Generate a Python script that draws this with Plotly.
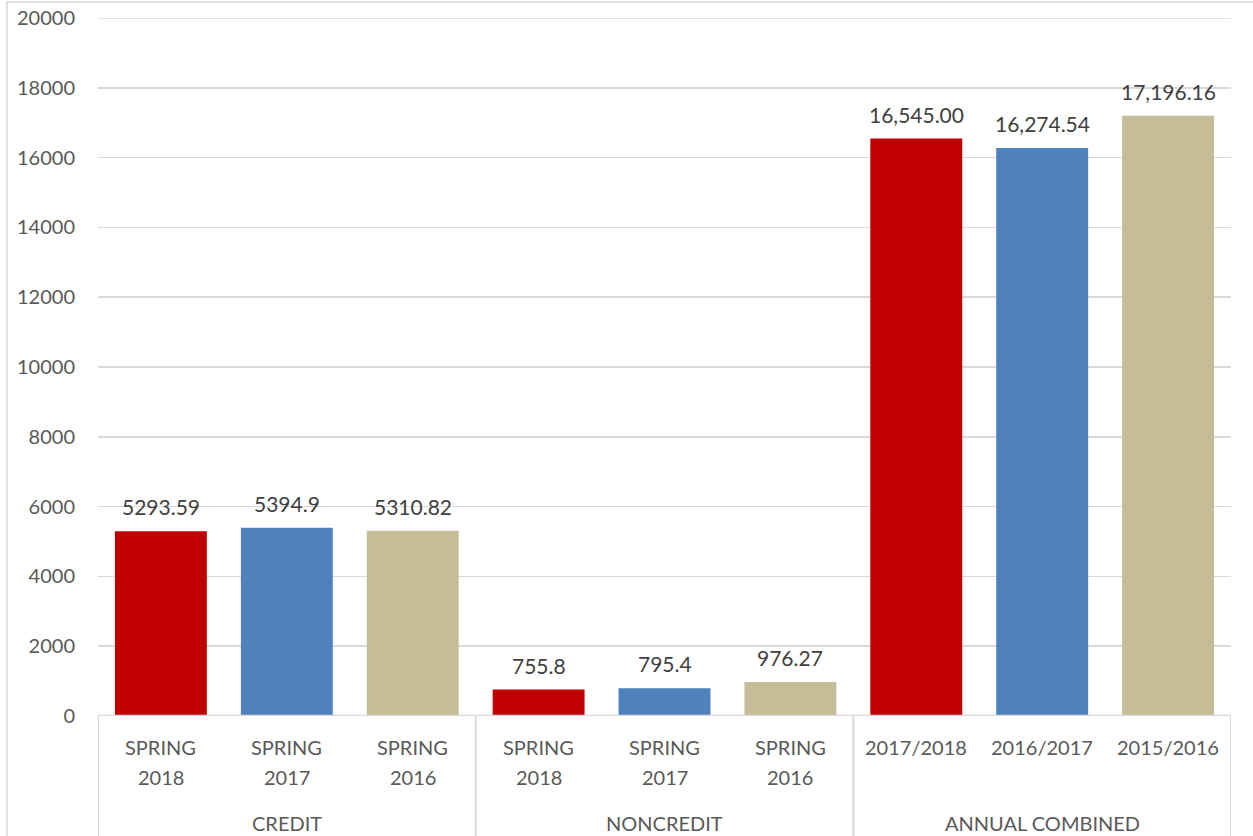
import plotly.graph_objects as go

groups = ["CREDIT", "NONCREDIT", "ANNUAL COMBINED"]
cat_line1 = ["SPRING", "SPRING", "SPRING", "SPRING", "SPRING", "SPRING", "2017/2018", "2016/2017", "2015/2016"]
cat_line2 = ["2018", "2017", "2016", "2018", "2017", "2016", "", "", ""]
values = [5293.59, 5394.9, 5310.82, 755.8, 795.4, 976.27, 16545.00, 16274.54, 17196.16]
value_labels = ["5293.59", "5394.9", "5310.82", "755.8", "795.4", "976.27", "16,545.00", "16,274.54", "17,196.16"]
colors = ["#C00000", "#4F81BD", "#C4BD97"] * 3
y_ticks = [0, 2000, 4000, 6000, 8000, 10000, 12000, 14000, 16000, 18000, 20000]

FONT = "Lato"
TXT = "#595959"
GRID = "#D9D9D9"

x = list(range(len(values)))
fig = go.Figure(go.Bar(x=x, y=values, marker=dict(color=colors, line=dict(width=0)),
                       width=0.73, hoverinfo="skip"))

ann = []
for i, v in enumerate(values):
    ann.append(dict(x=i, y=v, xref="x", yref="y", text=value_labels[i], showarrow=False,
                    yanchor="bottom", yshift=10, font=dict(family=FONT, size=21, color="#404040")))
    ann.append(dict(x=i, y=0, xref="x", yref="paper", text=cat_line1[i], showarrow=False,
                    yanchor="middle", yshift=-31, font=dict(family=FONT, size=20, color=TXT)))
    if cat_line2[i]:
        ann.append(dict(x=i, y=0, xref="x", yref="paper", text=cat_line2[i], showarrow=False,
                        yanchor="middle", yshift=-61, font=dict(family=FONT, size=20, color=TXT)))
for g, name in enumerate(groups):
    ann.append(dict(x=g * 3 + 1, y=0, xref="x", yref="paper", text=name, showarrow=False,
                    yanchor="middle", yshift=-107, font=dict(family=FONT, size=20, color=TXT)))

shapes = []
for b in [-0.5, 2.5, 5.5, 8.5]:
    shapes.append(dict(type="line", xref="x", yref="paper", x0=b, x1=b, y0=0, y1=-0.25,
                       line=dict(color=GRID, width=2)))
shapes.append(dict(type="line", xref="x", yref="y", x0=-0.5, x1=8.5, y0=0, y1=0,
                   line=dict(color=GRID, width=2.5)))
# top gridline (plotly hides gridlines lying on the plot edge)
shapes.append(dict(type="line", xref="x", yref="y", x0=-0.5, x1=8.5, y0=y_ticks[-1], y1=y_ticks[-1],
                   line=dict(color=GRID, width=1.5), layer="below"))
# outer chart border (plot area spans 1133 x 698 px, starting at 98,18)
shapes.append(dict(type="rect", xref="paper", yref="paper",
                   x0=-91 / 1133, x1=1160 / 1133,
                   y0=-140 / 698, y1=714 / 698,
                   line=dict(color=GRID, width=1.5), layer="below"))

fig.update_layout(
    width=1253, height=836,
    margin=dict(l=98, r=22, t=18, b=120, autoexpand=False),
    paper_bgcolor="white", plot_bgcolor="white",
    showlegend=False,
    annotations=ann, shapes=shapes,
    xaxis=dict(range=[-0.5, 8.5], showticklabels=False, showgrid=False, zeroline=False,
               showline=False, fixedrange=True, automargin=False),
    yaxis=dict(range=[0, 20000], tickvals=y_ticks, ticktext=[str(t) for t in y_ticks],
               showgrid=True, gridcolor=GRID, gridwidth=1.5, zeroline=False, showline=False,
               ticks="", ticklabelstandoff=22, ticklabeloverflow="allow", automargin=False,
               fixedrange=True, tickfont=dict(family=FONT, size=20, color=TXT)),
    font=dict(family=FONT),
)

fig.write_html("out.html", config={"displayModeBar": False, "staticPlot": True},
               post_script="document.body.style.margin='0px';")
